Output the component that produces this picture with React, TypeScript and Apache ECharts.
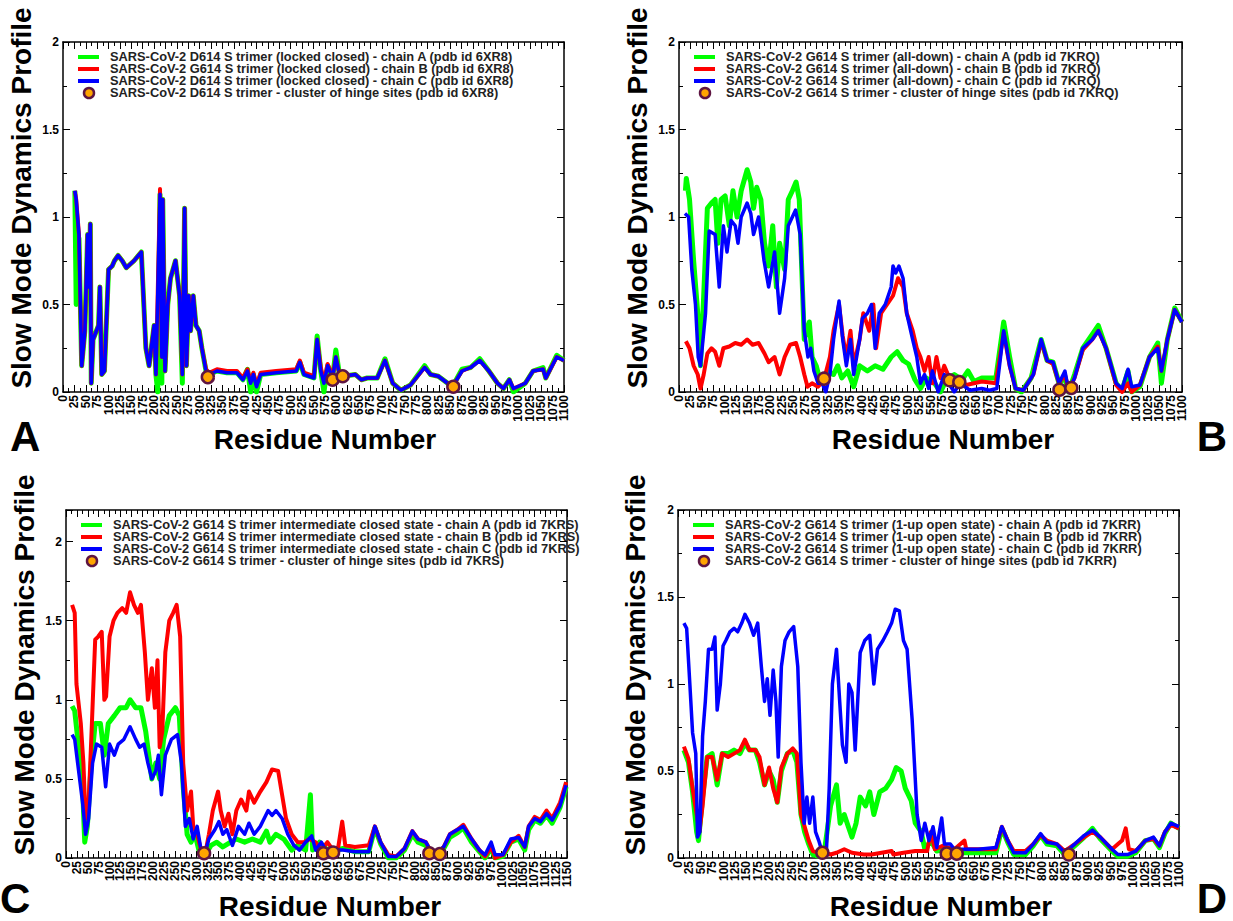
import React, { useEffect, useRef } from "react";
import * as echarts from "echarts";

// ---------- DATA (residue number, slow mode dynamics profile) ----------
const greenA = [[26,1.15],[29,0.5],[35,0.88],[41,0.15],[48,0.35],[54,0.9],[57,0.6],[60,0.96],[62,0.05],[66,0.3],[78,0.38],[81,0.6],[85,0.1],[91,0.12],[100,0.7],[108,0.72],[113,0.75],[121,0.78],[130,0.75],[139,0.71],[156,0.75],[172,0.8],[182,0.25],[189,0.15],[200,0.38],[204,0.1],[208,0.0],[213,1.13],[217,0.05],[219,1.1],[224,0.12],[230,0.5],[236,0.65],[247,0.75],[256,0.55],[262,0.05],[267,1.05],[271,0.15],[276,0.55],[280,0.35],[286,0.55],[292,0.38],[299,0.35],[305,0.25],[314,0.12],[321,0.1],[338,0.12],[360,0.11],[382,0.11],[395,0.07],[405,0.13],[412,0.0],[418,0.1],[425,0.0],[434,0.1],[468,0.11],[512,0.12],[520,0.17],[529,0.1],[551,0.08],[558,0.32],[566,0.12],[573,0.0],[581,0.15],[592,0.08],[599,0.24],[607,0.1],[614,0.09],[642,0.1],[655,0.07],[668,0.08],[690,0.08],[707,0.19],[724,0.05],[742,0.01],[763,0.04],[794,0.15],[807,0.1],[824,0.09],[855,0.03],[876,0.13],[895,0.14],[915,0.19],[935,0.12],[954,0.05],[967,0.02],[980,0.07],[989,0.0],[1015,0.05],[1032,0.12],[1054,0.14],[1060,0.08],[1084,0.21],[1100,0.18]];
const redA = [[26,1.15],[29,1.1],[35,0.9],[41,0.15],[48,0.35],[54,0.9],[57,0.6],[60,0.96],[62,0.05],[66,0.3],[78,0.38],[81,0.6],[85,0.1],[91,0.12],[100,0.7],[108,0.72],[113,0.75],[121,0.78],[130,0.75],[139,0.71],[156,0.75],[172,0.8],[182,0.25],[189,0.15],[200,0.38],[204,0.1],[213,1.16],[217,0.2],[219,1.1],[224,0.12],[230,0.5],[236,0.65],[247,0.75],[256,0.55],[262,0.1],[267,1.05],[271,0.15],[276,0.55],[280,0.35],[286,0.55],[292,0.38],[299,0.35],[305,0.25],[314,0.13],[321,0.11],[338,0.13],[360,0.12],[382,0.12],[395,0.08],[405,0.13],[412,0.06],[418,0.11],[425,0.04],[434,0.11],[468,0.12],[512,0.13],[520,0.18],[529,0.11],[551,0.09],[558,0.3],[566,0.14],[573,0.06],[581,0.16],[592,0.09],[599,0.2],[607,0.1],[614,0.09],[642,0.1],[655,0.07],[668,0.08],[690,0.08],[707,0.18],[724,0.05],[742,0.01],[763,0.04],[794,0.14],[807,0.1],[824,0.09],[855,0.03],[876,0.12],[895,0.14],[915,0.18],[935,0.12],[954,0.05],[967,0.02],[980,0.07],[989,0.02],[1015,0.05],[1032,0.12],[1054,0.13],[1060,0.08],[1084,0.2],[1100,0.18]];
const blueA = [[26,1.15],[29,1.1],[35,0.9],[41,0.15],[48,0.35],[54,0.9],[57,0.6],[60,0.96],[62,0.05],[66,0.3],[78,0.38],[81,0.6],[85,0.1],[91,0.12],[100,0.7],[108,0.72],[113,0.75],[121,0.78],[130,0.75],[139,0.71],[156,0.75],[172,0.8],[182,0.25],[189,0.15],[200,0.38],[204,0.1],[213,1.13],[217,0.2],[219,1.1],[224,0.12],[230,0.5],[236,0.65],[247,0.75],[256,0.55],[262,0.1],[267,1.05],[271,0.15],[276,0.55],[280,0.35],[286,0.55],[292,0.38],[299,0.35],[305,0.25],[314,0.12],[321,0.1],[338,0.12],[360,0.11],[382,0.11],[395,0.07],[405,0.12],[412,0.05],[418,0.1],[425,0.03],[434,0.1],[468,0.11],[512,0.12],[520,0.17],[529,0.1],[551,0.08],[558,0.3],[566,0.12],[573,0.05],[581,0.15],[592,0.08],[599,0.2],[607,0.1],[614,0.09],[642,0.1],[655,0.07],[668,0.08],[690,0.08],[707,0.18],[724,0.05],[742,0.01],[763,0.04],[794,0.14],[807,0.1],[824,0.09],[855,0.03],[876,0.12],[895,0.14],[915,0.18],[935,0.12],[954,0.05],[967,0.02],[980,0.07],[989,0.02],[1015,0.05],[1032,0.12],[1054,0.13],[1060,0.08],[1084,0.2],[1100,0.18]];
const hingeA = [[318,0.085],[592,0.07],[614,0.09],[857,0.03]];

const greenB = [[14,1.15],[16,1.22],[23,1.1],[32,0.75],[41,0.45],[47,0.15],[54,0.55],[62,1.05],[71,1.08],[79,1.1],[85,0.85],[92,1.1],[101,1.12],[110,0.95],[118,1.15],[127,1.0],[136,1.15],[149,1.27],[157,1.2],[163,1.05],[170,1.17],[179,1.1],[187,0.85],[196,0.72],[205,0.95],[213,0.6],[220,0.85],[231,0.7],[239,1.1],[248,1.15],[256,1.2],[263,1.1],[274,0.3],[285,0.4],[291,0.2],[300,0.15],[308,0.07],[317,0.05],[325,0.12],[338,0.1],[347,0.15],[356,0.08],[369,0.12],[382,0.03],[395,0.15],[412,0.12],[429,0.15],[446,0.13],[464,0.2],[477,0.23],[490,0.18],[502,0.16],[516,0.07],[528,0.02],[541,0.08],[559,0.05],[572,0.0],[585,0.07],[602,0.1],[619,0.07],[632,0.12],[645,0.06],[662,0.08],[693,0.08],[710,0.4],[723,0.2],[736,0.02],[749,0.0],[770,0.08],[792,0.3],[805,0.18],[818,0.17],[831,0.05],[844,0.08],[852,0.0],[865,0.1],[883,0.25],[904,0.33],[917,0.38],[934,0.25],[956,0.05],[969,0.01],[982,0.12],[990,0.0],[1008,0.03],[1029,0.2],[1047,0.28],[1055,0.05],[1068,0.3],[1084,0.48],[1100,0.4]];
const redB = [[15,0.29],[23,0.25],[32,0.15],[41,0.1],[47,0.02],[54,0.1],[62,0.22],[71,0.25],[79,0.23],[88,0.15],[97,0.25],[110,0.26],[123,0.28],[136,0.27],[149,0.3],[161,0.27],[174,0.28],[187,0.22],[196,0.17],[209,0.2],[220,0.1],[231,0.2],[243,0.27],[256,0.28],[265,0.2],[274,0.1],[281,0.03],[291,0.05],[304,0.03],[317,0.07],[330,0.2],[338,0.35],[350,0.5],[358,0.32],[366,0.2],[375,0.35],[382,0.15],[395,0.3],[403,0.45],[416,0.35],[425,0.5],[431,0.25],[442,0.45],[455,0.5],[468,0.55],[479,0.65],[490,0.6],[498,0.45],[511,0.35],[520,0.25],[528,0.2],[537,0.12],[546,0.2],[554,0.05],[563,0.2],[572,0.08],[580,0.15],[593,0.07],[610,0.08],[628,0.04],[662,0.06],[693,0.05],[710,0.34],[723,0.15],[736,0.02],[753,0.01],[775,0.1],[792,0.29],[805,0.18],[818,0.16],[831,0.05],[844,0.1],[852,0.01],[865,0.08],[883,0.24],[904,0.3],[917,0.35],[934,0.25],[956,0.04],[969,0.0],[982,0.05],[990,0.0],[1008,0.04],[1029,0.2],[1047,0.26],[1055,0.12],[1068,0.3],[1084,0.47],[1100,0.4]];
const blueB = [[13,1.02],[21,1.0],[28,0.7],[36,0.5],[42,0.2],[47,0.15],[58,0.45],[66,0.92],[79,0.9],[88,0.6],[97,0.95],[105,0.8],[114,0.98],[123,0.95],[129,0.85],[136,1.0],[149,1.08],[157,1.02],[163,0.9],[174,1.0],[186,0.75],[196,0.6],[209,0.8],[220,0.45],[231,0.65],[239,0.95],[255,1.04],[265,0.9],[274,0.35],[282,0.2],[288,0.25],[295,0.12],[304,0.05],[313,0.05],[321,0.0],[330,0.1],[338,0.3],[350,0.52],[358,0.3],[366,0.15],[375,0.3],[382,0.1],[395,0.3],[401,0.42],[412,0.45],[421,0.5],[429,0.25],[438,0.45],[451,0.5],[464,0.6],[468,0.72],[474,0.68],[481,0.72],[490,0.65],[498,0.45],[511,0.3],[520,0.2],[528,0.05],[537,0.1],[546,0.02],[554,0.12],[567,0.0],[580,0.1],[592,0.04],[602,0.0],[615,0.05],[636,0.01],[662,0.02],[679,0.01],[695,0.02],[710,0.35],[723,0.15],[736,0.02],[753,0.01],[775,0.1],[792,0.3],[805,0.18],[818,0.17],[831,0.05],[844,0.12],[852,0.01],[865,0.08],[883,0.25],[904,0.3],[917,0.35],[934,0.25],[956,0.05],[969,0.02],[982,0.13],[990,0.03],[1008,0.04],[1029,0.2],[1047,0.25],[1055,0.12],[1068,0.3],[1084,0.47],[1100,0.4]];
const hingeB = [[317,0.076],[592,0.067],[613,0.057],[832,0.013],[858,0.023]];

const greenC = [[14,0.96],[20,0.93],[29,0.7],[38,0.45],[43,0.1],[49,0.2],[58,0.6],[67,0.85],[79,0.85],[88,0.65],[97,0.85],[111,0.9],[124,0.95],[138,0.95],[147,1.0],[160,0.95],[172,0.95],[183,0.8],[197,0.5],[206,0.6],[215,0.5],[224,0.75],[237,0.9],[251,0.95],[260,0.9],[269,0.45],[278,0.15],[287,0.1],[296,0.15],[305,0.05],[319,0.02],[333,0.08],[346,0.1],[360,0.07],[378,0.1],[391,0.12],[410,0.1],[428,0.12],[446,0.1],[460,0.17],[468,0.1],[482,0.15],[500,0.12],[518,0.05],[532,0.08],[550,0.05],[561,0.4],[566,0.05],[582,0.1],[600,0.05],[618,0.05],[636,0.06],[663,0.04],[695,0.04],[709,0.19],[722,0.09],[740,0.0],[758,0.0],[777,0.05],[795,0.15],[808,0.1],[826,0.08],[840,0.02],[854,0.03],[867,0.06],[881,0.13],[899,0.16],[912,0.19],[931,0.1],[949,0.04],[962,0.0],[976,0.06],[985,0.0],[1003,0.01],[1021,0.1],[1039,0.12],[1053,0.05],[1062,0.18],[1076,0.24],[1089,0.22],[1103,0.27],[1116,0.22],[1134,0.32],[1148,0.45]];
const redC = [[14,1.6],[20,1.55],[24,1.1],[34,0.85],[40,0.6],[45,0.25],[52,0.35],[58,0.75],[67,1.38],[74,1.4],[82,1.43],[88,1.0],[92,1.02],[100,1.4],[109,1.5],[118,1.55],[129,1.58],[138,1.55],[147,1.68],[156,1.6],[165,1.55],[172,1.6],[181,1.3],[188,1.0],[197,1.2],[204,0.95],[210,1.25],[215,0.7],[221,0.8],[228,1.3],[237,1.5],[246,1.55],[254,1.6],[262,1.4],[269,0.6],[278,0.3],[287,0.42],[292,0.2],[301,0.15],[310,0.05],[319,0.02],[328,0.15],[337,0.3],[349,0.42],[355,0.3],[364,0.2],[373,0.28],[382,0.15],[391,0.3],[402,0.37],[414,0.3],[420,0.42],[432,0.35],[446,0.42],[460,0.48],[473,0.56],[487,0.55],[496,0.4],[505,0.25],[518,0.15],[532,0.1],[546,0.1],[559,0.12],[573,0.1],[586,0.05],[600,0.1],[613,0.05],[625,0.07],[634,0.23],[641,0.08],[663,0.07],[695,0.08],[709,0.2],[722,0.1],[740,0.02],[758,0.01],[777,0.06],[795,0.17],[808,0.12],[826,0.1],[840,0.03],[854,0.04],[867,0.07],[881,0.15],[899,0.18],[912,0.21],[931,0.12],[949,0.05],[962,0.01],[976,0.07],[985,0.0],[1003,0.02],[1021,0.1],[1039,0.14],[1053,0.07],[1062,0.2],[1076,0.26],[1089,0.24],[1103,0.3],[1116,0.25],[1134,0.35],[1148,0.48]];
const blueC = [[14,0.78],[20,0.75],[29,0.55],[38,0.35],[45,0.15],[52,0.25],[61,0.6],[70,0.72],[82,0.7],[91,0.45],[100,0.72],[111,0.65],[120,0.72],[133,0.75],[147,0.83],[160,0.75],[169,0.7],[179,0.72],[188,0.6],[197,0.5],[206,0.55],[212,0.65],[219,0.4],[228,0.65],[242,0.75],[256,0.78],[265,0.6],[274,0.2],[283,0.25],[292,0.12],[301,0.2],[310,0.05],[319,0.03],[328,0.12],[342,0.18],[351,0.23],[360,0.15],[369,0.18],[382,0.08],[396,0.2],[410,0.15],[420,0.22],[432,0.15],[446,0.2],[464,0.3],[473,0.27],[482,0.3],[496,0.25],[509,0.15],[523,0.08],[536,0.05],[550,0.1],[564,0.14],[573,0.05],[586,0.1],[600,0.03],[618,0.05],[636,0.05],[663,0.04],[695,0.04],[709,0.2],[722,0.1],[740,0.01],[758,0.01],[777,0.06],[795,0.17],[808,0.12],[826,0.1],[840,0.03],[854,0.04],[867,0.07],[881,0.15],[899,0.18],[912,0.2],[931,0.12],[949,0.05],[962,0.02],[976,0.1],[985,0.02],[1003,0.02],[1021,0.12],[1039,0.13],[1053,0.07],[1062,0.2],[1076,0.25],[1089,0.23],[1103,0.28],[1116,0.24],[1134,0.33],[1148,0.46]];
const hingeC = [[317,0.03],[591,0.03],[613,0.035],[834,0.03],[858,0.025]];

const greenD = [[13,0.62],[23,0.55],[32,0.38],[41,0.15],[45,0.1],[54,0.35],[64,0.58],[75,0.6],[86,0.42],[97,0.6],[110,0.6],[123,0.62],[136,0.6],[147,0.66],[157,0.62],[170,0.62],[179,0.55],[190,0.42],[200,0.5],[209,0.45],[218,0.32],[227,0.5],[240,0.6],[252,0.62],[261,0.55],[270,0.25],[278,0.15],[287,0.08],[296,0.02],[309,0.01],[322,0.05],[335,0.3],[348,0.42],[356,0.2],[365,0.25],[374,0.18],[382,0.12],[391,0.2],[400,0.35],[412,0.3],[421,0.38],[430,0.25],[443,0.38],[456,0.4],[469,0.45],[479,0.52],[490,0.5],[499,0.4],[512,0.33],[521,0.2],[534,0.15],[542,0.05],[555,0.1],[568,0.04],[585,0.05],[607,0.03],[633,0.03],[667,0.03],[698,0.03],[711,0.17],[724,0.09],[737,0.02],[763,0.02],[780,0.07],[796,0.13],[810,0.08],[832,0.07],[849,0.02],[871,0.07],[892,0.12],[910,0.17],[927,0.11],[953,0.04],[966,0.01],[987,0.01],[1005,0.03],[1026,0.1],[1044,0.11],[1057,0.06],[1069,0.14],[1082,0.2],[1100,0.17]];
const redD = [[13,0.64],[23,0.57],[32,0.4],[41,0.25],[47,0.15],[54,0.3],[64,0.58],[75,0.58],[86,0.45],[97,0.6],[110,0.58],[123,0.6],[136,0.62],[147,0.68],[157,0.62],[170,0.62],[179,0.58],[190,0.42],[200,0.52],[209,0.4],[218,0.32],[227,0.52],[240,0.6],[252,0.63],[261,0.6],[270,0.25],[278,0.18],[287,0.1],[296,0.04],[309,0.03],[322,0.03],[335,0.02],[348,0.03],[365,0.05],[382,0.03],[408,0.02],[425,0.02],[447,0.03],[469,0.04],[473,0.02],[495,0.03],[521,0.04],[547,0.04],[555,0.15],[564,0.05],[581,0.07],[607,0.05],[629,0.1],[633,0.05],[698,0.05],[711,0.18],[724,0.1],[737,0.04],[763,0.04],[780,0.08],[796,0.13],[810,0.1],[832,0.08],[849,0.04],[871,0.08],[892,0.12],[910,0.15],[927,0.12],[953,0.05],[966,0.08],[975,0.1],[983,0.17],[990,0.05],[1005,0.04],[1026,0.1],[1044,0.11],[1057,0.07],[1069,0.15],[1082,0.19],[1100,0.17]];
const blueD = [[13,1.35],[19,1.32],[26,1.0],[32,0.72],[39,0.6],[43,0.12],[48,0.15],[54,0.7],[60,0.9],[67,1.2],[75,1.2],[81,1.27],[86,0.85],[93,1.0],[99,1.22],[105,1.25],[114,1.3],[123,1.32],[131,1.3],[140,1.35],[147,1.4],[157,1.35],[166,1.28],[175,1.35],[183,1.1],[190,0.9],[196,1.03],[202,0.82],[209,1.08],[215,0.9],[220,0.58],[227,1.1],[235,1.25],[244,1.3],[254,1.33],[263,1.1],[270,0.55],[277,0.2],[283,0.35],[289,0.2],[296,0.35],[302,0.15],[309,0.1],[317,0.03],[326,0.05],[332,0.4],[339,1.0],[348,1.2],[355,0.9],[361,0.65],[369,0.55],[375,1.0],[382,0.95],[389,0.62],[400,1.18],[410,1.25],[421,1.28],[430,1.0],[438,1.2],[450,1.25],[460,1.3],[469,1.35],[477,1.43],[486,1.42],[495,1.25],[503,1.2],[514,0.8],[525,0.25],[534,0.1],[542,0.2],[551,0.1],[560,0.18],[568,0.06],[579,0.23],[585,0.08],[598,0.08],[607,0.05],[624,0.05],[659,0.05],[698,0.06],[711,0.18],[724,0.1],[737,0.03],[763,0.03],[780,0.08],[796,0.14],[810,0.09],[832,0.08],[849,0.03],[871,0.08],[892,0.13],[910,0.16],[927,0.12],[953,0.05],[966,0.02],[987,0.02],[1005,0.04],[1026,0.1],[1044,0.12],[1057,0.07],[1069,0.15],[1082,0.2],[1100,0.18]];
const hingeD = [[317,0.03],[590,0.025],[612,0.025],[858,0.02]];

const labelsA = [
  "SARS-CoV-2 D614 S trimer (locked closed) - chain A (pdb id 6XR8)",
  "SARS-CoV-2 G614 S trimer (locked closed) - chain B (pdb id 6XR8)",
  "SARS-CoV-2 D614 S trimer (locked closed) - chain C (pdb id 6XR8)",
  "SARS-CoV-2 D614 S trimer - cluster of hinge sites (pdb id 6XR8)",
];
const labelsB = [
  "SARS-CoV-2 G614 S trimer (all-down) - chain A (pdb id 7KRQ)",
  "SARS-CoV-2 G614 S trimer (all-down) - chain B (pdb id 7KRQ)",
  "SARS-CoV-2 G614 S trimer (all-down) - chain C (pdb id 7KRQ)",
  "SARS-CoV-2 G614 S trimer - cluster of hinge sites (pdb id 7KRQ)",
];
const labelsC = [
  "SARS-CoV-2 G614 S trimer intermediate closed state - chain A (pdb id 7KRS)",
  "SARS-CoV-2 G614 S trimer intermediate closed state - chain B (pdb id 7KRS)",
  "SARS-CoV-2 G614 S trimer intermediate closed state - chain C (pdb id 7KRS)",
  "SARS-CoV-2 G614 S trimer - cluster of hinge sites (pdb id 7KRS)",
];
const labelsD = [
  "SARS-CoV-2 G614 S trimer (1-up open state) - chain A (pdb id 7KRR)",
  "SARS-CoV-2 G614 S trimer (1-up open state) - chain B (pdb id 7KRR)",
  "SARS-CoV-2 G614 S trimer (1-up open state) - chain C (pdb id 7KRR)",
  "SARS-CoV-2 G614 S trimer - cluster of hinge sites (pdb id 7KRR)",
];
const panelLetters = ["A", "B", "C", "D"];
const xMaxes = [1100, 1100, 1150, 1100];
const yMaxes = [2, 2, 2.2, 2];
const xTickStep = 25;
const yTickStep = 0.5;
const yAxisTitle = "Slow Mode Dynamics Profile";
const xAxisTitle = "Residue Number";

// ---------- LAYOUT / STYLE ----------
const FONT = "'Liberation Sans', Arial, Helvetica, sans-serif";
const GREEN = "#00ff00";
const RED = "#ff0000";
const BLUE = "#0000ff";
const HINGE_FILL = "#ffa500";
const HINGE_BORDER = "#5e1542";

const layouts = [
  { x: 63, y: 42, w: 501, h: 350, yName: [21, 198], xName: [325, 439], letter: [10, 436, "left"] },
  { x: 679, y: 42, w: 503, h: 350, yName: [637, 198], xName: [943, 439], letter: [1212, 436, "center"] },
  { x: 66, y: 510, w: 501, h: 348, yName: [24, 665], xName: [330, 906], letter: [0, 898, "left"] },
  { x: 678, y: 510, w: 501, h: 348, yName: [635, 665], xName: [941, 906], letter: [1212, 898, "center"] },
];

const panels = [
  { green: greenA, red: redA, blue: blueA, hinge: hingeA, labels: labelsA },
  { green: greenB, red: redB, blue: blueB, hinge: hingeB, labels: labelsB },
  { green: greenC, red: redC, blue: blueC, hinge: hingeC, labels: labelsC },
  { green: greenD, red: redD, blue: blueD, hinge: hingeD, labels: labelsD },
];

function buildOption() {
  const grid: any[] = [];
  const xAxis: any[] = [];
  const yAxis: any[] = [];
  const series: any[] = [];
  const graphic: any[] = [];
  const axisLine = { show: true, onZero: false, lineStyle: { color: "#000", width: 1.5 } };
  const tick = { show: true, inside: true, length: 7, lineStyle: { color: "#000", width: 1 } };
  const minor = { show: true, splitNumber: 2, length: 4, lineStyle: { color: "#000", width: 1 } };
  const xLabelStyle = { rotate: 90, margin: 3, fontSize: 12, fontWeight: "bold", color: "#000", fontFamily: FONT };

  panels.forEach((p, i) => {
    const L = layouts[i];
    grid.push({ left: L.x, top: L.y, width: L.w, height: L.h, containLabel: false });
    const xBase = {
      gridIndex: i, type: "value", min: 0, max: xMaxes[i], interval: xTickStep,
      axisLine, axisTick: tick, minorTick: minor, splitLine: { show: false }, minorSplitLine: { show: false },
    };
    // main bottom axis: inner labels (ends are drawn by the helper axis below)
    xAxis.push({
      ...xBase, position: "bottom",
      axisLabel: { show: true, ...xLabelStyle, showMinLabel: false, showMaxLabel: false, formatter: (v: number) => String(Math.round(v)) },
    });
    xAxis.push({ ...xBase, position: "top", axisLabel: { show: false } });
    // helper axis carrying only the two end labels
    xAxis.push({
      gridIndex: i, type: "value", min: 0, max: xMaxes[i], interval: xMaxes[i], position: "bottom", offset: 0,
      axisLine: { show: false }, axisTick: { show: false }, minorTick: { show: false }, splitLine: { show: false },
      axisLabel: { show: true, ...xLabelStyle, showMinLabel: true, showMaxLabel: true, formatter: (v: number) => String(Math.round(v)) },
    });
    const yBase = {
      gridIndex: i, type: "value", min: 0, max: yMaxes[i], interval: yTickStep,
      axisLine, axisTick: tick, minorTick: minor, splitLine: { show: false }, minorSplitLine: { show: false },
    };
    yAxis.push({
      ...yBase, position: "left",
      axisLabel: {
        show: true, margin: 4, fontSize: 12, fontWeight: "bold", color: "#000", fontFamily: FONT,
        showMinLabel: true, showMaxLabel: true,
        formatter: (v: number) => (Math.abs(v / yTickStep - Math.round(v / yTickStep)) < 1e-6 ? String(+v.toFixed(2)) : ""),
      },
    });
    yAxis.push({ ...yBase, position: "right", axisLabel: { show: false } });

    const xi = 3 * i;
    const yi = 2 * i;
    const mk = (name: string, data: number[][], color: string, width: number, z: number) => ({
      type: "line", name, data, xAxisIndex: xi, yAxisIndex: yi, symbol: "none", showSymbol: false,
      lineStyle: { color, width, join: "round" }, itemStyle: { color }, z, silent: true,
    });
    series.push(mk(p.labels[0], p.green, GREEN, 5, 2));
    series.push(mk(p.labels[1], p.red, RED, 4, 3));
    series.push(mk(p.labels[2], p.blue, BLUE, 3.5, 4));
    series.push({
      type: "scatter", name: p.labels[3], data: p.hinge, xAxisIndex: xi, yAxisIndex: yi,
      symbol: "circle", symbolSize: 12,
      itemStyle: { color: HINGE_FILL, borderColor: HINGE_BORDER, borderWidth: 2.5, opacity: 1 },
      z: 6, silent: true,
    });

    // legend
    const colors = [GREEN, RED, BLUE];
    for (let k = 0; k < 4; k++) {
      const ry = L.y + 15 + 12 * k;
      if (k < 3) {
        graphic.push({ type: "line", shape: { x1: L.x + 15, y1: ry, x2: L.x + 36, y2: ry }, style: { stroke: colors[k], lineWidth: 4 }, z: 10 });
      } else {
        graphic.push({ type: "circle", shape: { cx: L.x + 26, cy: ry, r: 5 }, style: { fill: HINGE_FILL, stroke: HINGE_BORDER, lineWidth: 2.5 }, z: 10 });
      }
      graphic.push({
        type: "text", x: L.x + 47, y: ry, z: 10, scaleX: 1.07,
        style: { text: p.labels[k], font: `bold 12px ${FONT}`, lineHeight: 11, fill: "#222", align: "left", verticalAlign: "middle" },
      });
    }
    // axis titles
    graphic.push({
      type: "text", x: L.yName[0], y: L.yName[1], rotation: Math.PI / 2, z: 10,
      style: { text: yAxisTitle, font: `bold 28px ${FONT}`, fill: "#000", align: "center", verticalAlign: "middle" },
    });
    graphic.push({
      type: "text", x: L.xName[0], y: L.xName[1], z: 10,
      style: { text: xAxisTitle, font: `bold 28px ${FONT}`, fill: "#000", align: "center", verticalAlign: "middle" },
    });
    graphic.push({
      type: "text", x: L.letter[0], y: L.letter[1], z: 10,
      style: { text: panelLetters[i], font: `bold 42px ${FONT}`, fill: "#000", align: L.letter[2], verticalAlign: "middle" },
    });
  });

  return { animation: false, backgroundColor: "#fff", grid, xAxis, yAxis, series, graphic };
}

export default function App() {
  const ref = useRef<HTMLDivElement>(null);
  useEffect(() => {
    if (!ref.current) return;
    const chart = echarts.init(ref.current, undefined, { renderer: "svg" });
    chart.setOption(buildOption() as any);
    return () => chart.dispose();
  }, []);
  return (
    <div
      ref={ref}
      style={{ position: "fixed", left: 0, top: 0, width: 1233, height: 921, background: "#fff" }}
    />
  );
}
